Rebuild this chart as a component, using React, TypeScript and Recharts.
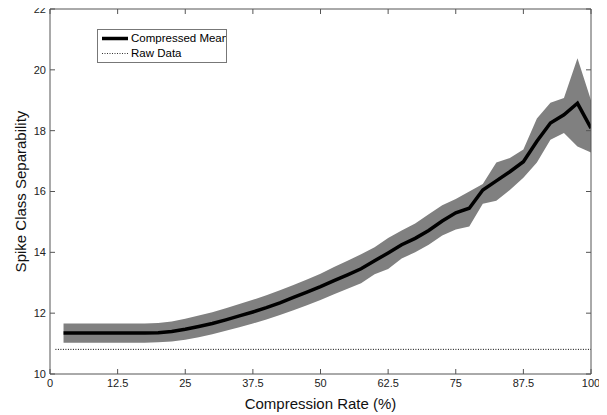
import React from 'react';
import { ComposedChart, Area, Line, XAxis, YAxis, Legend } from 'recharts';

const rates = [2.5, 5, 7.5, 10, 12.5, 15, 17.5, 20, 22.5, 25, 27.5, 30, 32.5, 35, 37.5, 40, 42.5, 45, 47.5, 50,
  52.5, 55, 57.5, 60, 62.5, 65, 67.5, 70, 72.5, 75, 77.5, 80, 82.5, 85, 87.5, 90, 92.5, 95, 97.5, 100];
const meanValues = [11.35, 11.35, 11.35, 11.35, 11.35, 11.35, 11.35, 11.36, 11.40, 11.47, 11.56, 11.66, 11.78, 11.91, 12.04, 12.18, 12.34, 12.52, 12.69, 12.87,
  13.07, 13.26, 13.46, 13.72, 13.98, 14.25, 14.46, 14.72, 15.03, 15.30, 15.45, 16.05, 16.35, 16.65, 16.98, 17.65, 18.25, 18.52, 18.90, 18.08];
const lowerValues = [11.03, 11.03, 11.03, 11.03, 11.03, 11.03, 11.03, 11.04, 11.07, 11.13, 11.21, 11.31, 11.42, 11.54, 11.66, 11.79, 11.94, 12.10, 12.26, 12.43,
  12.62, 12.80, 12.98, 13.28, 13.45, 13.80, 14.00, 14.25, 14.55, 14.75, 14.85, 15.60, 15.70, 16.05, 16.45, 16.95, 17.70, 17.92, 17.48, 17.28];
const upperValues = [11.66, 11.66, 11.66, 11.66, 11.66, 11.66, 11.66, 11.68, 11.73, 11.82, 11.92, 12.03, 12.16, 12.30, 12.44, 12.59, 12.75, 12.93, 13.11, 13.30,
  13.52, 13.72, 13.94, 14.17, 14.47, 14.72, 14.95, 15.25, 15.55, 15.75, 16.00, 16.25, 16.95, 17.10, 17.38, 18.40, 18.92, 19.07, 20.38, 19.00];
const rawX = [1, 100];
const rawY = [10.81, 10.81];
const xTicks = [0, 12.5, 25, 37.5, 50, 62.5, 75, 87.5, 100];
const yTicks = [10, 12, 14, 16, 18, 20, 22];

const table = rates.map((r, i) => ({ rate: r, mean: meanValues[i], band: [lowerValues[i], upperValues[i]] }));
const rawTable = rawX.map((r, i) => ({ rate: r, raw: rawY[i] }));

const FONT = '"Liberation Sans", Arial, Helvetica, sans-serif';
const AXIS = '#555';
const TICK_LEN = 5;
const BOTTOM_MARGIN = 5;
const LEFT_MARGIN = 4;

const BottomTick = (p: any) => {
  const { x, y, payload } = p;
  const axisY = y - BOTTOM_MARGIN;
  return (
    <g>
      <line x1={x} y1={axisY} x2={x} y2={axisY - TICK_LEN} stroke={AXIS} strokeWidth={1} />
      <text x={x} y={y} dy="0.71em" textAnchor="middle" fontFamily={FONT} fontSize={11} fill="#222">{payload.value}</text>
    </g>
  );
};
const TopTick = (p: any) => {
  const { x, y } = p;
  return <line x1={x} y1={y} x2={x} y2={y + TICK_LEN} stroke={AXIS} strokeWidth={1} />;
};
const LeftTick = (p: any) => {
  const { x, y, payload } = p;
  const axisX = x + LEFT_MARGIN;
  return (
    <g>
      <line x1={axisX} y1={y} x2={axisX + TICK_LEN} y2={y} stroke={AXIS} strokeWidth={1} />
      <text x={x} y={y} dy="0.355em" textAnchor="end" fontFamily={FONT} fontSize={11} fill="#222">{payload.value}</text>
    </g>
  );
};
const RightTick = (p: any) => {
  const { x, y } = p;
  return <line x1={x} y1={y} x2={x - TICK_LEN} y2={y} stroke={AXIS} strokeWidth={1} />;
};

const LegendBox = () => (
  <div style={{ width: 130, height: 34, border: '1px solid #777', background: '#fff', boxSizing: 'border-box', position: 'relative', overflow: 'hidden', fontFamily: FONT, fontSize: 11.5 }}>
    <svg width={32} height={34} style={{ position: 'absolute', left: 0, top: 0 }}>
      <line x1={4} y1={8.5} x2={30} y2={8.5} stroke="#000" strokeWidth={3.5} />
      <line x1={4} y1={23.5} x2={30} y2={23.5} stroke="#333" strokeWidth={1} strokeDasharray="1 1.5" />
    </svg>
    <div style={{ position: 'absolute', left: 33, top: 1.5, whiteSpace: 'nowrap', color: '#000' }}>Compressed Mean</div>
    <div style={{ position: 'absolute', left: 33, top: 16.5, whiteSpace: 'nowrap', color: '#000' }}>Raw Data</div>
  </div>
);

export default function App() {
  return (
    <div style={{ marginTop: -4 }}>
      <ComposedChart width={600} height={411} data={table} margin={{ top: 4, right: 16, bottom: 0, left: 0 }}>
        <XAxis xAxisId="bottom" dataKey="rate" type="number" domain={[0, 100]} ticks={xTicks} allowDataOverflow
          height={41} tickSize={0} tickMargin={BOTTOM_MARGIN} tickLine={false} tick={BottomTick} interval={0}
          axisLine={{ stroke: AXIS }}
          label={(lp: any) => {
            const vb = lp.viewBox || {};
            return <text x={vb.x + vb.width / 2} y={399} textAnchor="middle" dominantBaseline="central" fontFamily={FONT} fontSize={15} fill="#111">Compression Rate (%)</text>;
          }} />
        <XAxis xAxisId="top" orientation="top" dataKey="rate" type="number" domain={[0, 100]} ticks={xTicks} allowDataOverflow
          height={1} tickSize={0} tickMargin={0} tickLine={false} tick={TopTick} interval={0} axisLine={{ stroke: AXIS }} />
        <YAxis yAxisId="left" type="number" domain={[10, 22]} ticks={yTicks} allowDataOverflow width={42}
          tickSize={0} tickMargin={LEFT_MARGIN} tickLine={false} tick={LeftTick} interval={0} axisLine={{ stroke: AXIS }}
          label={(lp: any) => {
            const vb = lp.viewBox || {};
            const cy = vb.y + vb.height / 2;
            return <text transform={`translate(12, ${cy}) rotate(-90)`} textAnchor="middle" dominantBaseline="central" fontFamily={FONT} fontSize={15} fill="#111">Spike Class Separability</text>;
          }} />
        <YAxis yAxisId="right" orientation="right" type="number" domain={[10, 22]} ticks={yTicks} allowDataOverflow width={1}
          tickSize={0} tickMargin={0} tickLine={false} tick={RightTick} interval={0} axisLine={{ stroke: AXIS }} />
        <Area xAxisId="bottom" yAxisId="left" dataKey="band" type="linear" stroke="none" fill="#808080" fillOpacity={1} isAnimationActive={false} />
        <Line xAxisId="bottom" yAxisId="left" dataKey="mean" type="linear" stroke="#000" strokeWidth={3.5} dot={false} activeDot={false} isAnimationActive={false} />
        <Line xAxisId="bottom" yAxisId="left" data={rawTable} dataKey="raw" type="linear" stroke="#000" strokeWidth={1} strokeDasharray="1 1.5" dot={false} activeDot={false} isAnimationActive={false} />
        <Legend layout="vertical" verticalAlign="middle" align="center" content={LegendBox}
          wrapperStyle={{ position: 'absolute', top: 25, left: 89, width: 130, height: 34 }} />
      </ComposedChart>
    </div>
  );
}
